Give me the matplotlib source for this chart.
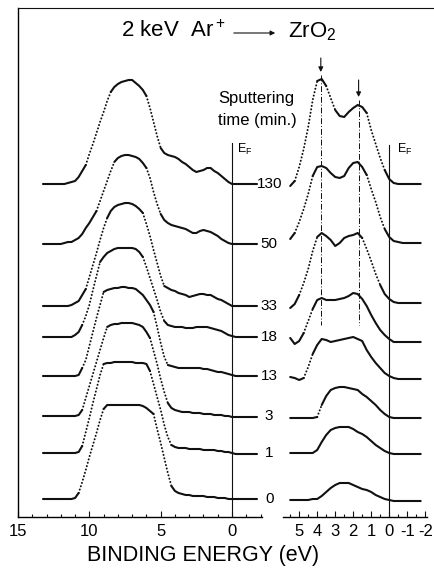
import numpy as np
import matplotlib
matplotlib.use("Agg")
import matplotlib.pyplot as plt
from matplotlib.lines import Line2D
from matplotlib.patches import FancyArrowPatch
from matplotlib.ticker import MultipleLocator, FixedLocator

plt.rcParams['font.family'] = ['Liberation Sans', 'DejaVu Sans']
plt.rcParams['mathtext.default'] = 'regular'
plt.rcParams['axes.unicode_minus'] = False

# sputtering times (min.), top to bottom
times = ['130', '50', '33', '18', '13', '3', '1', '0']
# vertical offset of each spectrum (arb. units)
offsets = [333, 273, 211, 180, 141, 101, 64, 18]

# valence band, wide range (binding energy, eV)
e_wide = np.arange(13.25, -1.76, -0.25)
wide = {
    '130': [0, 0, 0, 0, 0, 0, 0, 1, 2, 3, 7, 13, 19, 30, 40, 51, 62, 72, 83, 92,
            97, 100, 102, 103, 104, 104, 101, 98, 94, 88, 76, 62, 48, 36, 31, 29, 28, 27, 25, 22,
            20, 17, 14, 12, 13, 14, 16, 16, 13, 11, 8, 5, 2, 0, 0, 0, 0, 0, 0, 0, 0],
    '50':  [0, 0, 0, 0, 0, 0, 1, 2, 2, 4, 6, 10, 16, 21, 27, 33, 43, 53, 63, 73,
            82, 86, 88, 89, 89, 88, 87, 85, 81, 76, 66, 52, 40, 30, 24, 21, 19, 18, 17, 16,
            15, 13, 11, 11, 13, 14, 13, 12, 10, 8, 5, 3, 1, 0, 0, 0, 0, 0, 0, 0, 0],
    '33':  [0, 0, 0, 0, 0, 0, 0, 0, 1, 3, 5, 11, 17, 29, 41, 53, 66, 78, 88, 95,
            99, 101, 102, 103, 103, 102, 100, 97, 93, 82, 70, 56, 43, 30, 20, 18, 16, 15, 13, 12,
            11, 9, 10, 11, 12, 12, 11, 11, 9, 7, 6, 4, 2, 0, 0, 0, 0, 0, 0, 0, 0],
    '18':  [0, 0, 0, 0, 0, 0, 0, 0, 0, 2, 5, 12, 21, 32, 47, 61, 75, 80, 84, 86,
            88, 89, 89, 89, 89, 89, 88, 85, 80, 70, 59, 48, 37, 25, 16, 12, 11, 10, 10, 10,
            9, 9, 9, 10, 10, 10, 10, 9, 8, 7, 6, 4, 2, 1, 0, 0, 0, 0, 0, 0, 0],
    '13':  [0, 0, 0, 0, 0, 0, 0, 0, 0, 0, 1, 8, 16, 30, 44, 58, 71, 84, 86, 87,
            88, 88, 89, 89, 88, 88, 87, 84, 81, 76, 71, 64, 49, 33, 19, 11, 10, 9, 8, 8,
            8, 8, 8, 8, 8, 7, 7, 6, 5, 4, 4, 3, 2, 1, 0, 0, 0, 0, 0, 0, 0],
    '3':   [0, 0, 0, 0, 0, 0, 0, 0, 0, 0, 1, 6, 18, 30, 42, 54, 66, 78, 89, 91,
            92, 92, 93, 93, 93, 93, 92, 91, 89, 84, 78, 65, 52, 37, 24, 13, 8, 6, 5, 4,
            4, 4, 3, 3, 3, 2, 2, 2, 1, 1, 1, 0, 0, -1, -1, -1, -1, -1, -1, -1, -1],
    '1':   [0, 0, 0, 0, 0, 0, 0, 0, 0, 0, 1, 7, 21, 35, 50, 64, 78, 89, 90, 90,
            91, 91, 91, 91, 91, 91, 90, 90, 90, 89, 82, 69, 56, 43, 28, 16, 8, 6, 5, 5,
            5, 4, 4, 4, 4, 3, 3, 3, 3, 2, 2, 1, 1, 0, -1, -1, -1, -1, -1, -1, -1],
    '0':   [0, 0, 0, 0, 0, 0, 0, 0, 0, 1, 6, 17, 29, 42, 54, 66, 79, 90, 94, 94,
            94, 94, 94, 94, 94, 94, 94, 94, 93, 91, 88, 85, 70, 56, 41, 26, 13, 8, 6, 5,
            4, 4, 3, 3, 3, 3, 2, 2, 2, 1, 1, 1, 0, 0, 0, 0, 0, 0, 0, 0, 0],
}

# gap region near E_F
e_gap = np.arange(5.5, -1.76, -0.25)
gap = {
    '130': [-2, 3, 17, 35, 57, 84, 103, 105, 98, 86, 74, 68, 67, 72, 76, 79, 77, 71, 54, 40, 26, 14, 5, 1, 0, 0, 0, 0, 0, 0],
    '50':  [5, 11, 22, 35, 50, 68, 77, 78, 76, 71, 67, 66, 68, 76, 81, 82, 77, 69, 55, 42, 27, 15, 7, 3, 2, 1, 1, 1, 1, 1],
    '33':  [-2, 2, 11, 23, 37, 55, 69, 73, 70, 66, 60, 63, 68, 70, 71, 73, 68, 57, 45, 32, 21, 12, 7, 4, 3, 3, 3, 3, 3, 3],
    '18':  [-1, -7, -4, 4, 16, 28, 37, 39, 37, 37, 37, 38, 39, 41, 44, 43, 38, 31, 22, 14, 7, 2, -2, -5, -5, -5, -5, -5, -5, -5],
    '13':  [-1, -2, -4, -2, 9, 22, 31, 37, 36, 34, 35, 36, 37, 38, 39, 37, 35, 26, 19, 13, 8, 3, 0, -2, -3, -3, -3, -3, -3, -3],
    '3':   [-2, -2, -2, -2, -2, -2, -1, 11, 20, 26, 28, 29, 29, 28, 27, 26, 22, 19, 15, 11, 6, 2, -1, -2, -2, -2, -2, -2, -2, -2],
    '1':   [0, 0, 0, 0, 0, 0, 3, 11, 18, 23, 25, 26, 26, 26, 24, 21, 19, 16, 12, 8, 5, 2, 0, -1, -1, -1, -1, -1, -1, -1],
    '0':   [-1, -1, -1, -1, -1, 0, 0, 3, 7, 11, 14, 16, 16, 16, 14, 12, 10, 9, 7, 4, 2, 0, -1, -2, -2, -2, -2, -2, -2, -2],
}

# marked peak positions in the gap region (eV)
peak_energy = [3.8, 1.7]

wide_ticks = [15, 10, 5, 0]
gap_ticks = [5, 4, 3, 2, 1, 0, -1, -2]

ink = '#111111'
W, H = 435, 573

fig = plt.figure(figsize=(W / 100, H / 100), dpi=100)
ax1 = fig.add_axes([18 / W, 56 / H, 244 / W, 509 / H])
ax2 = fig.add_axes([283 / W, 56 / H, 144 / W, 509 / H])

ax1.set_xlim(15, -2.1)
ax2.set_xlim(5.9, -2.1)
for ax in (ax1, ax2):
    ax.set_ylim(0, 509)
    ax.set_yticks([])
    ax.spines['top'].set_visible(False)
    ax.spines['right'].set_visible(False)
    ax.spines['bottom'].set_linewidth(1.0)
    ax.spines['left'].set_linewidth(1.0)
    ax.tick_params(axis='x', which='both', direction='in', top=False,
                   labelsize=12, pad=5, width=0.8, color=ink)
    ax.tick_params(axis='x', which='major', length=4.5)
    ax.tick_params(axis='x', which='minor', length=2.5)
ax2.spines['left'].set_visible(False)

ax1.xaxis.set_major_locator(FixedLocator(wide_ticks))
ax1.xaxis.set_minor_locator(MultipleLocator(1))
ax1.set_xticklabels([str(t) for t in wide_ticks])
ax2.xaxis.set_major_locator(FixedLocator(gap_ticks))
ax2.xaxis.set_minor_locator(MultipleLocator(0.5))
ax2.set_xticklabels([str(t) for t in gap_ticks])


def draw_trace(ax, energy, heights, offset):
    # steep stretches come out as separate dots, flat stretches as a solid trace
    y = np.asarray(heights, dtype=float) + offset
    pts = ax.transData.transform(np.column_stack([energy, y]))
    d = np.diff(pts, axis=0)
    steep = np.abs(d[:, 1]) > 2.0 * np.abs(d[:, 0])
    start = 0
    for i in range(1, len(steep) + 1):
        if i == len(steep) or steep[i] != steep[start]:
            seg = slice(start, i + 1)
            if steep[start]:
                ax.plot(energy[seg], y[seg], color=ink, lw=1.4,
                        linestyle=(0, (0.1, 1.7)), dash_capstyle='round')
            else:
                ax.plot(energy[seg], y[seg], color=ink, lw=1.5,
                        solid_capstyle='round', solid_joinstyle='round')
            start = i


for t, off in zip(times, offsets):
    draw_trace(ax1, e_wide, wide[t], off)
    draw_trace(ax2, e_gap, gap[t], off)
    ax1.text(-2.6, off, t, fontsize=11, ha='center', va='center', clip_on=False)

# Fermi level
ax1.plot([0, 0], [0, 374], color=ink, lw=0.8)
ax2.plot([0, 0], [0, 372], color=ink, lw=0.8)
ax1.text(-0.35, 364, 'E$_F$', fontsize=9, ha='left', va='baseline')
ax2.text(-0.45, 364, 'E$_F$', fontsize=9, ha='left', va='baseline')

# peak markers
for pe, tail, tip in zip(peak_energy, [459, 437], [445, 420]):
    ax2.annotate('', xy=(pe, tip), xytext=(pe, tail),
                 arrowprops=dict(arrowstyle='-|>', lw=0.8, color=ink,
                                 mutation_scale=7, shrinkA=0, shrinkB=0))
    ax2.plot([pe, pe], [tip - 3, 192], color=ink, lw=0.7,
             linestyle=(0, (6, 2, 1, 2)))

# frame along the top
fig.add_artist(Line2D([18 / W, 1], [1 - 8 / H, 1 - 8 / H],
                      transform=fig.transFigure, color=ink, lw=0.8))

# title
fig.text(226 / W, 1 - 37 / H, '2 keV  Ar$^+$', fontsize=16, ha='right', va='baseline')
fig.text(288 / W, 1 - 37 / H, 'ZrO$_2$', fontsize=16, ha='left', va='baseline')
fig.add_artist(FancyArrowPatch((231 / W, 1 - 33 / H), (278 / W, 1 - 33 / H),
                               transform=fig.transFigure, arrowstyle='-|>',
                               mutation_scale=7, lw=0.8, color=ink))

fig.text(218 / W, 1 - 103 / H, 'Sputtering', fontsize=12, ha='left', va='baseline')
fig.text(218 / W, 1 - 125 / H, 'time (min.)', fontsize=12, ha='left', va='baseline')

fig.text(203 / W, 1 - 555 / H, 'BINDING ENERGY (eV)', fontsize=15.5,
         ha='center', va='center')

fig.savefig('out.png', dpi=100)
